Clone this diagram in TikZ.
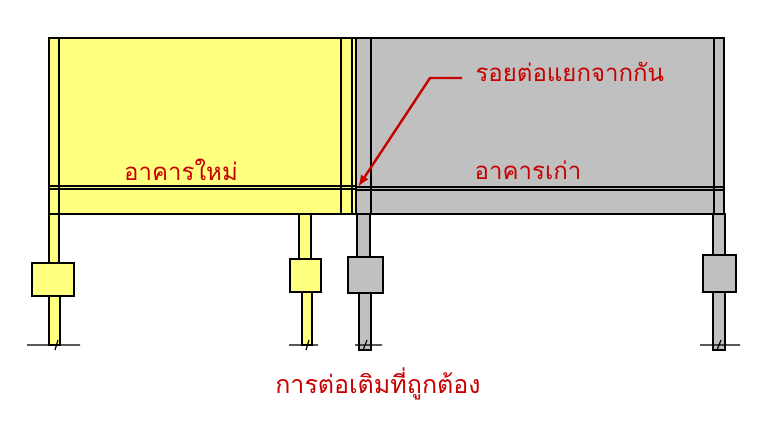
\documentclass[tikz,border=0pt]{standalone}
\usepackage{fontspec}
\usetikzlibrary{arrows.meta}
\newfontfamily\thaifont[Script=Thai]{Loma}
\definecolor{yel}{RGB}{255,255,128}
\definecolor{gry}{RGB}{192,192,192}
\definecolor{rd}{RGB}{200,0,0}
\begin{document}
\begin{tikzpicture}[x=1pt,y=-1pt,line width=1.2pt,
  lbl/.style={text=rd,font=\thaifont\fontsize{24}{28}\selectfont,inner sep=0pt}]
\useasboundingbox (0,0) rectangle (779,429);
% yellow building
\draw[fill=yel] (49,38) rectangle (356,214);
\draw (59,38)--(59,214) (341,38)--(341,214) (352,38)--(352,214);
\draw (49,186)--(356,186) (49,189)--(356,189);
% gray building
\draw[fill=gry] (356,38) rectangle (724,214);
\draw (371,38)--(371,214) (714,38)--(714,214);
\draw (356,187)--(724,187) (356,190)--(724,190);
% columns
\foreach \a/\b/\c/\d/\fa/\fb/\fc/\fd/\e/\f/\g/\col in {
 49/59/214/263/32/74/263/296/49/60/345/yel,
 299/311/214/259/290/321/259/292/302/312/345/yel,
 357/370/214/257/348/383/257/293/359/371/350/gry,
 713/725/214/255/703/736/255/292/713/725/350/gry}{
 \draw[fill=\col] (\a,\c) rectangle (\b,\d);
 \draw[fill=\col] (\fa,\fc) rectangle (\fb,\fd);
 \draw[fill=\col] (\e,\fd) rectangle (\f,\g);
}
\draw (27,345)--(80,345) (55,350)--(58,340);
\draw (289,345)--(318,345) (306,350)--(309,340);
\draw (355,345)--(382,345) (363,350)--(367,340);
\draw (700,345)--(740,345) (717,350)--(721,340);
% labels
\node[lbl,anchor=west] (j) at (475,72) {รอยต่อแยกจากกัน};
\node[lbl] (n) at (181,170) {อาคารใหม่};
\node[lbl] (o) at (528,170) {อาคารเก่า};
\node[lbl,font=\thaifont\fontsize{25}{29}\selectfont] (t) at (378,384) {การต่อเติมที่ถูกต้อง};
\coordinate (p1) at (462,78);
\coordinate (p2) at (430,78);
\coordinate (p3) at (358,187);
\draw[rd,line width=2.4pt,-{Latex[length=12pt,width=9pt]}] (p1)--(p2)--(p3);
\end{tikzpicture}
\end{document}
